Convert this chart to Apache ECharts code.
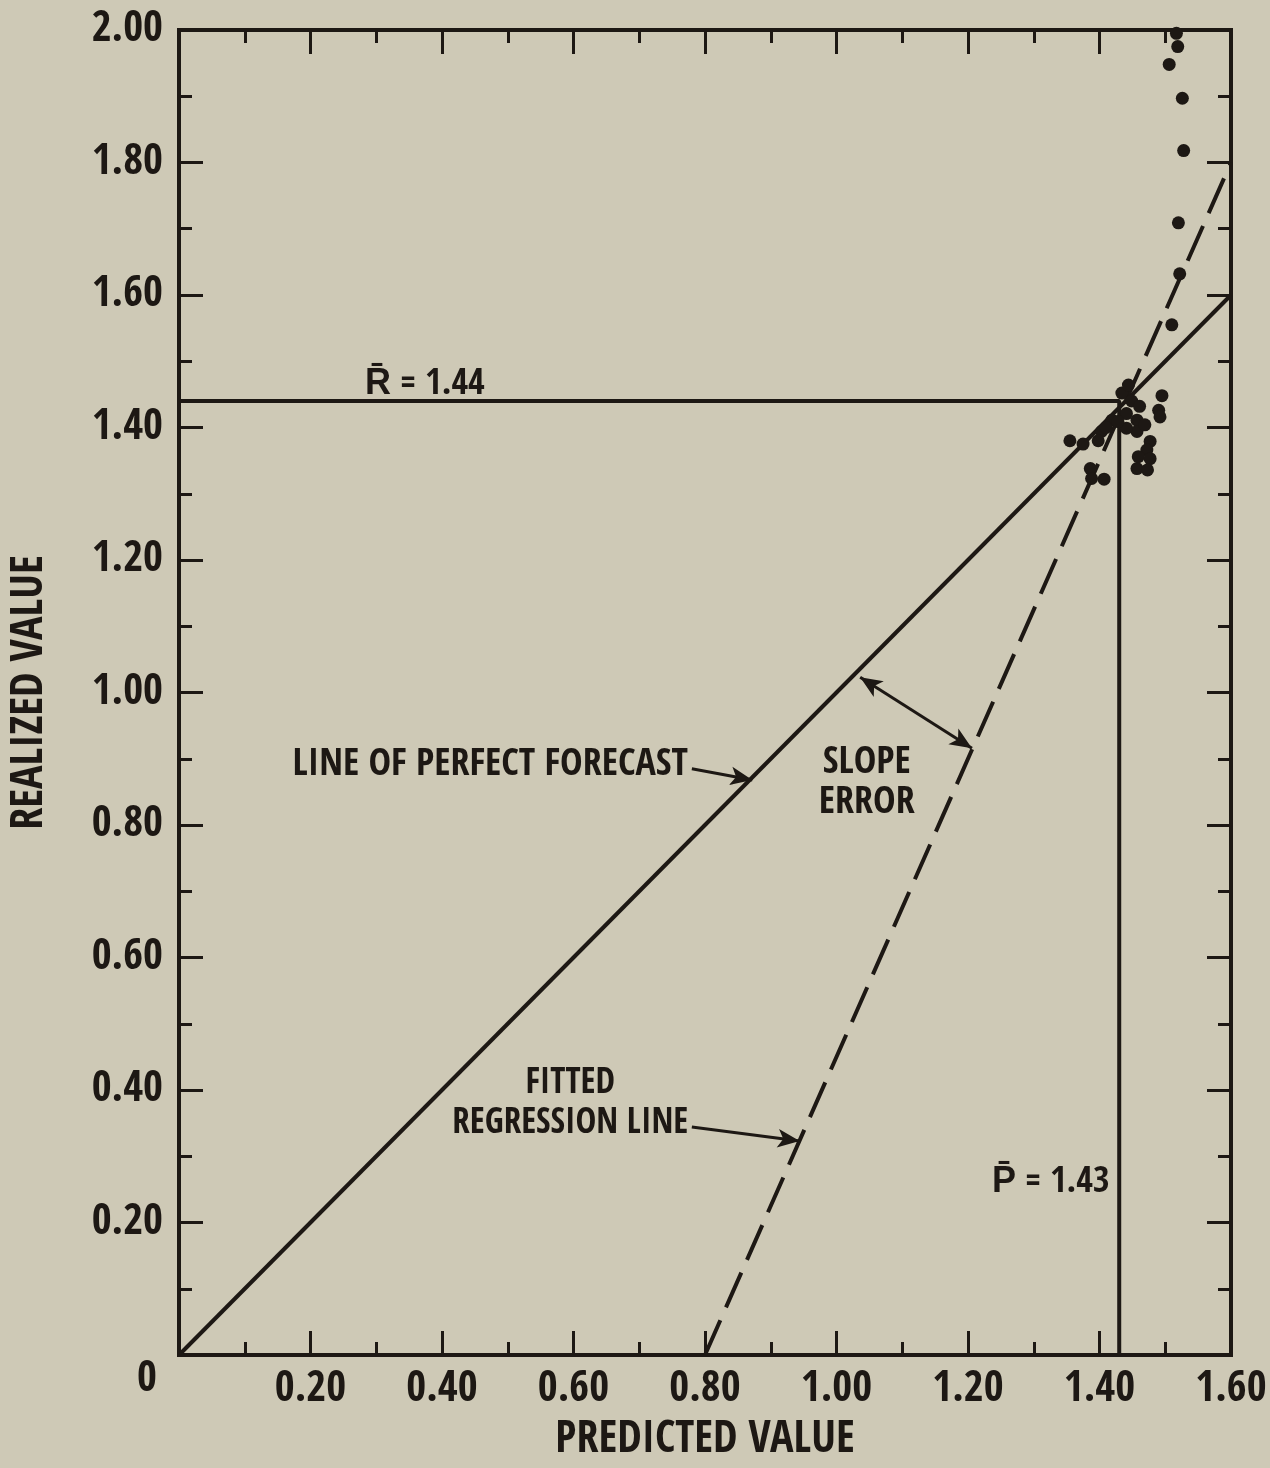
<!DOCTYPE html>
<html>
<head>
<meta charset="utf-8">
<script src="https://cdn.jsdelivr.net/npm/echarts@6/dist/echarts.min.js"></script>
<style>
  html, body { margin: 0; padding: 0; overflow: hidden; background: #cec9b6; }
  #chart { width: 1270px; height: 1468px; }
</style>
</head>
<body>
<div id="chart"></div>
<script>
// Observed forecasts: predicted value vs. realized value
const predictedValues = [
  1.517, 1.519, 1.506, 1.526, 1.528, 1.520, 1.522, 1.510,
  1.355, 1.375, 1.386, 1.388, 1.407, 1.403, 1.419, 1.434, 1.444,
  1.495, 1.490, 1.492, 1.449, 1.461, 1.457, 1.457, 1.469, 1.441,
  1.477, 1.472, 1.459, 1.477, 1.457, 1.473, 1.441, 1.428, 1.398, 1.410
];
const realizedValues = [
  1.995, 1.975, 1.948, 1.897, 1.818, 1.709, 1.632, 1.555,
  1.380, 1.375, 1.338, 1.323, 1.322, 1.394, 1.411, 1.452, 1.464,
  1.448, 1.426, 1.416, 1.440, 1.432, 1.411, 1.394, 1.404, 1.399,
  1.379, 1.366, 1.356, 1.353, 1.338, 1.336, 1.421, 1.409, 1.380, 1.400
];

// Means and reference lines
const meanPredicted = 1.43;
const meanRealized = 1.44;
const perfectForecastLine = [[0, 0], [1.6, 1.6]];
const regressionLine = [[0.80, 0], [1.60, 1.80]];

// Annotation texts and anchor points (data units)
const noteTexts = ['R\u0304 = 1.44', 'P\u0304 = 1.43', 'LINE OF PERFECT FORECAST', 'SLOPE\nERROR', 'FITTED\nREGRESSION LINE'];
const notePoints = [[0.374, 1.465], [1.326, 0.260], [0.774, 0.891], [1.046, 0.864], [0.595, 0.379]];
const noteAligns = ['center', 'center', 'right', 'center', 'center'];
const noteSizes = [36, 36, 38, 38, 35];
const pointerArrows = [
  [[0.780, 0.885], [0.872, 0.868]],
  [[0.780, 0.344], [0.944, 0.323]]
];
const slopeArc = [[1.036, 1.023], [1.206, 0.916]];

const INK = '#1d1814';
const FONT = "'Open Sans Condensed', 'Roboto Condensed', 'Liberation Sans Narrow', sans-serif";

const points = predictedValues.map((p, i) => [p, realizedValues[i]]);
const meanLines = [[0, meanRealized], [meanPredicted, meanRealized], [meanPredicted, 0]];

function makeAxis(extra) {
  return Object.assign({
    type: 'value',
    interval: 0.2,
    axisLine: { show: true, onZero: false, lineStyle: { color: INK, width: 4, cap: 'square' } },
    axisTick: { show: true, inside: true, length: 24, lineStyle: { color: INK, width: 3 } },
    minorTick: { show: true, splitNumber: 2, length: 13, lineStyle: { color: INK, width: 3 } },
    splitLine: { show: false },
    minorSplitLine: { show: false }
  }, extra);
}

const labelFont = { color: INK, fontFamily: FONT, fontWeight: 'bold', fontSize: 43 };
const titleFont = { color: INK, fontFamily: FONT, fontWeight: 'bold', fontSize: 44 };

const chart = echarts.init(document.getElementById('chart'), null, { renderer: 'canvas' });

chart.setOption({
  animation: false,
  backgroundColor: '#cec9b6',
  grid: { left: 179, right: 39, top: 30, bottom: 113, containLabel: false },
  xAxis: [
    makeAxis({
      min: 0, max: 1.6, position: 'bottom',
      name: 'PREDICTED VALUE', nameLocation: 'middle', nameGap: 64,
      nameTextStyle: titleFont,
      axisLabel: Object.assign({
        margin: 13,
        formatter: v => (v === 0 ? '' : v.toFixed(2))
      }, labelFont)
    }),
    makeAxis({ min: 0, max: 1.6, position: 'top', axisLabel: { show: false } })
  ],
  yAxis: [
    makeAxis({
      min: 0, max: 2, position: 'left',
      name: 'REALIZED VALUE', nameLocation: 'middle', nameGap: 126, nameRotate: 90,
      nameTextStyle: titleFont,
      axisLabel: Object.assign({
        margin: 16,
        formatter: v => (v === 0 ? '{zero|0}' : v.toFixed(2)),
        rich: { zero: Object.assign({ padding: [50, 6, 0, 0] }, labelFont) }
      }, labelFont)
    }),
    makeAxis({ min: 0, max: 2, position: 'right', axisLabel: { show: false } })
  ],
  series: [
    {
      name: 'Line of perfect forecast',
      type: 'line',
      data: perfectForecastLine,
      symbol: 'none',
      lineStyle: { color: INK, width: 4 },
      z: 3
    },
    {
      name: 'Fitted regression line',
      type: 'line',
      data: regressionLine,
      symbol: 'none',
      lineStyle: { color: INK, width: 4, type: [38, 14] },
      z: 3,
      markLine: {
        silent: true,
        symbol: ['arrow', 'arrow'],
        symbolSize: [14, 22],
        label: { show: false },
        lineStyle: { color: INK, width: 3, type: 'solid', curveness: -0.1 },
        data: [[{ coord: slopeArc[0] }, { coord: slopeArc[1] }]]
      }
    },
    {
      name: 'Means',
      type: 'line',
      data: meanLines,
      symbol: 'none',
      lineStyle: { color: INK, width: 4 },
      z: 3
    },
    {
      name: 'Observations',
      type: 'scatter',
      data: points,
      symbol: 'circle',
      symbolSize: 13,
      itemStyle: { color: INK, opacity: 1 },
      z: 4
    },
    {
      name: 'Notes',
      type: 'scatter',
      symbolSize: 0,
      silent: true,
      itemStyle: { opacity: 1 },
      data: notePoints.map((pt, i) => ({
        value: pt,
        label: {
          show: true,
          position: 'inside',
          formatter: noteTexts[i],
          align: noteAligns[i],
          verticalAlign: 'middle',
          lineHeight: 40,
          color: INK,
          fontFamily: FONT,
          fontWeight: 'bold',
          fontSize: noteSizes[i]
        }
      })),
      markLine: {
        silent: true,
        symbol: ['none', 'arrow'],
        symbolSize: [14, 22],
        label: { show: false },
        lineStyle: { color: INK, width: 3, type: 'solid' },
        data: pointerArrows.map(a => [{ coord: a[0] }, { coord: a[1] }])
      },
      z: 5
    }
  ]
});
</script>
</body>
</html>
